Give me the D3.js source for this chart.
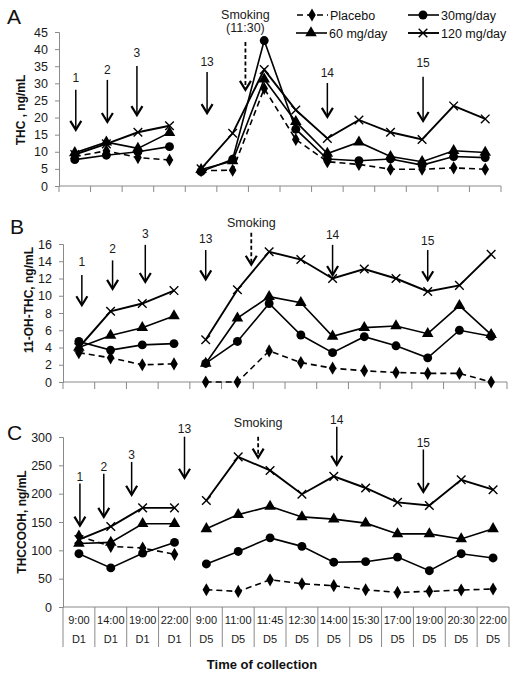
<!DOCTYPE html>
<html><head><meta charset="utf-8">
<script src="https://cdn.jsdelivr.net/npm/d3@7"></script>
<style>body{margin:0;background:#fff}svg{display:block;font-family:"Liberation Sans",Arial,sans-serif}text{fill:#1a1a1a}</style>
</head><body><svg id="c" width="519" height="679"></svg>
<script>
// ---------- data ----------
const timeLabels = ["9:00","14:00","19:00","22:00","9:00","11:00","11:45","12:30","14:00","15:30","17:00","19:00","20:30","22:00"];
const dayLabels  = ["D1","D1","D1","D1","D5","D5","D5","D5","D5","D5","D5","D5","D5","D5"];
const seriesNames = ["Placebo","30mg/day","60 mg/day","120 mg/day"];

const thcPlacebo = [8.6, 10.3, 8.3, 7.6, 4.5, 4.6, 28.5, 13.6, 7.1, 6.3, 4.9, 4.9, 5.3, 4.9];
const thc30      = [7.7, 9.0, 10.0, 11.5, 4.2, 7.8, 42.5, 16.6, 7.9, 7.4, 7.9, 6.1, 8.6, 8.3];
const thc60      = [9.7, 12.8, 11.0, 15.6, 4.8, 7.3, 31.2, 18.8, 9.5, 12.8, 8.6, 7.1, 10.3, 9.8];
const thc120     = [9.2, 12.3, 15.7, 17.6, 5.0, 15.4, 34.0, 22.2, 13.9, 19.3, 15.7, 13.6, 23.4, 19.6];

const ohPlacebo = [3.4, 2.8, 2.0, 2.1, 0, 0, 3.6, 2.25, 1.6, 1.3, 1.1, 1.0, 1.0, 0];
const oh30      = [4.7, 3.7, 4.3, 4.45, 2.15, 4.7, 9.1, 5.45, 3.4, 5.25, 4.2, 2.8, 6.0, 5.3];
const oh60      = [4.0, 5.4, 6.3, 7.65, 2.15, 7.4, 9.9, 9.2, 5.3, 6.3, 6.5, 5.6, 8.85, 5.5];
const oh120     = [4.0, 8.2, 9.1, 10.6, 4.9, 10.7, 15.1, 14.2, 12.0, 13.1, 12.0, 10.5, 11.2, 14.8];

const coohPlacebo = [125, 107, 104, 93, 30.5, 27.5, 48, 41, 37.6, 30.4, 25.8, 27.6, 30, 31.7];
const cooh30      = [94, 69, 95, 114, 76, 98, 122, 107, 79, 80, 88, 64, 94, 86.5];
const cooh60      = [112, 114, 147, 147, 138, 163, 177.5, 159, 155, 148, 129, 129, 120, 138];
const cooh120     = [119, 142, 175, 175, 188, 265, 241, 199, 230.5, 210, 184.6, 179, 224.6, 207];

const thcTicks  = [0,5,10,15,20,25,30,35,40,45];
const ohTicks   = [0,2,4,6,8,10,12,14,16];
const coohTicks = [0,50,100,150,200,250,300];

// annotation arrows: label, category index, y values in data units
const annA = [
  {t:"1", c:0, dx:1, lab:30.4, top:28.1, bot:16.4},
  {t:"2", c:1, dx:1, lab:32.7, top:31.0, bot:18.7},
  {t:"3", c:2, dx:-1, lab:37.7, top:35.1, bot:20.7},
  {t:"13", c:4, dx:6, lab:35.1, top:33.3, bot:21.3},
  {t:"14", c:8, dx:0, lab:31.9, top:30.1, bot:20.2},
  {t:"15", c:11, dx:1, lab:34.8, top:31.9, bot:19.0}
];
const annB = [
  {t:"1", c:0, dx:3, lab:13.4, top:12.4, bot:8.9},
  {t:"2", c:1, dx:2, lab:15.0, top:14.1, bot:10.8},
  {t:"3", c:2, dx:3, lab:16.7, top:15.9, bot:11.6},
  {t:"13", c:4, dx:0, lab:16.1, top:15.3, bot:11.9},
  {t:"14", c:8, dx:0, lab:16.6, top:15.9, bot:12.4},
  {t:"15", c:11, dx:0, lab:15.9, top:15.3, bot:11.8}
];
const annC = [
  {t:"1", c:0, dx:1, lab:223, top:218, bot:143.5},
  {t:"2", c:1, dx:-7, lab:240.5, top:235, bot:159},
  {t:"3", c:2, dx:-11, lab:262, top:256, bot:198},
  {t:"13", c:3, dx:10, lab:307.6, top:300.5, bot:228},
  {t:"14", c:8, dx:3, lab:323.5, top:318, bot:251},
  {t:"15", c:11, dx:-6, lab:283, top:278, bot:203}
];
const smokeA = {c:6, dx:-3, labels:["Smoking","(11:30)"], labs:[48.8,44.9], top:42.1, bot:28.1};
const smokeB = {c:6, dx:-2, labels:["Smoking"], labs:[18.0], top:17.3, bot:13.6};
const smokeC = {c:6, dx:4, labels:["Smoking"], labs:[318.4], top:300.5, bot:263.5};

// ---------- drawing ----------
const svg = d3.select("#c");
const axisCol = "#8a8a8a";
const txtCol = "#1a1a1a";
const idx = d3.range(timeLabels.length);

const panels = [
  {letter:"A", lx:7, ly:24, title:"THC , ng/mL", tx:25, ty:110,
   x0:59, x1:501, yb:186, yt:32, max:45, ticks:thcTicks, data:[thcPlacebo,thc30,thc60,thc120],
   ann:annA, smoke:smokeA, legend:true, tickLen:6},
  {letter:"B", lx:10, ly:234, title:"11-OH-THC, ng/mL", tx:33, ty:300,
   x0:63, x1:507, yb:382, yt:244, max:16, ticks:ohTicks, data:[ohPlacebo,oh30,oh60,oh120],
   ann:annB, smoke:smokeB, legend:false, tickLen:7},
  {letter:"C", lx:7, ly:440, title:"THCCOOH, ng/mL", tx:26, ty:522,
   x0:63, x1:509, yb:607, yt:437, max:300, ticks:coohTicks, data:[coohPlacebo,cooh30,cooh60,cooh120],
   ann:annC, smoke:smokeC, legend:false, tickLen:40, labels:true}
];

function marker(g, type, x, y){
  if(type===3){
    const s=4.3;
    g.append("path").attr("d",`M${x-s},${y-s}L${x+s},${y+s}M${x-s},${y+s}L${x+s},${y-s}`)
     .attr("stroke","#000").attr("stroke-width",1.4).attr("fill","none");
  } else {
    const sym = type===0 ? d3.symbolDiamond : type===1 ? d3.symbolCircle : d3.symbolTriangle;
    const size = type===0 ? 50 : type===1 ? 62 : 58;
    g.append("path").attr("d", d3.symbol().type(sym).size(size)())
     .attr("transform",`translate(${x},${y})`).attr("fill","#000");
  }
}

function arrow(g, x, y1, y2, dashed){
  g.append("line").attr("x1",x).attr("x2",x).attr("y1",y1).attr("y2",y2-1)
   .attr("stroke","#000").attr("stroke-width",dashed?1.8:1.5)
   .attr("stroke-dasharray",dashed?"4,2.5":null);
  g.append("path").attr("d",`M${x-5.5},${y2-9}L${x},${y2}L${x+5.5},${y2-9}`)
   .attr("stroke","#000").attr("stroke-width",2.2).attr("fill","none").attr("stroke-linejoin","miter");
}

panels.forEach(p=>{
  const g = svg.append("g");
  const x = d3.scaleBand().domain(idx).range([p.x0,p.x1]);
  const y = d3.scaleLinear().domain([0,p.max]).range([p.yb,p.yt]);
  const cx = i => x(i)+x.bandwidth()/2;

  g.append("text").attr("x",p.lx).attr("y",p.ly).attr("font-size",21).style("fill","#111").text(p.letter);
  g.append("text").attr("transform",`translate(${p.tx},${p.ty}) rotate(-90)`)
   .attr("text-anchor","middle").attr("font-size",12).attr("font-weight","bold").style("fill","#111").text(p.title);

  const ya = g.append("g").attr("transform",`translate(${p.x0},0)`)
    .call(d3.axisLeft(y).tickValues(p.ticks).tickSize(4).tickPadding(7));
  ya.select(".domain").attr("stroke",axisCol);
  ya.selectAll(".tick line").attr("stroke",axisCol);
  ya.selectAll(".tick text").attr("font-size",12.5).style("fill",txtCol).attr("font-family","Liberation Sans, Arial, sans-serif");

  g.append("line").attr("x1",p.x0).attr("x2",p.x1).attr("y1",p.yb).attr("y2",p.yb).attr("stroke",axisCol);
  d3.range(timeLabels.length+1).forEach(i=>{
    const xx = i<timeLabels.length ? x(i) : p.x1;
    g.append("line").attr("x1",xx).attr("x2",xx).attr("y1",p.yb).attr("y2",p.yb+p.tickLen).attr("stroke",axisCol);
  });
  if(p.labels){
    idx.forEach(i=>{
      g.append("text").attr("x",cx(i)).attr("y",p.yb+17).attr("text-anchor","middle")
       .attr("font-size",11).style("fill",txtCol).text(timeLabels[i]);
      g.append("text").attr("x",cx(i)).attr("y",p.yb+36).attr("text-anchor","middle")
       .attr("font-size",11).style("fill",txtCol).text(dayLabels[i]);
    });
  }

  const segs = [d3.range(0,4), d3.range(4,14)];
  p.data.forEach((vals,si)=>{
    segs.forEach(seg=>{
      g.append("path").datum(seg)
       .attr("d", d3.line().x(i=>cx(i)).y(i=>y(vals[i])))
       .attr("fill","none").attr("stroke","#000")
       .attr("stroke-width", si===3?1.9:1.6)
       .attr("stroke-dasharray", si===0?"6,4":null);
    });
  });
  p.data.forEach((vals,si)=>{
    idx.forEach(i=>marker(g, si, cx(i), y(vals[i])));
  });

  p.ann.forEach(a=>{
    const ax = cx(a.c)+a.dx;
    g.append("text").attr("x",ax).attr("y",y(a.lab)).attr("text-anchor","middle")
     .attr("font-size",12).style("fill",txtCol).text(a.t);
    arrow(g, ax, y(a.top), y(a.bot), false);
  });
  const s = p.smoke;
  const sx = x(s.c)+s.dx;
  s.labels.forEach((t,k)=>{
    g.append("text").attr("x",sx).attr("y",y(s.labs[k])).attr("text-anchor","middle")
     .attr("font-size",12.5).style("fill",txtCol).text(t);
  });
  arrow(g, sx, y(s.top), y(s.bot), true);

  if(p.legend){
    const items = [
      {x:297, y:15}, {x:408, y:15}, {x:296, y:33}, {x:408, y:33}
    ];
    seriesNames.forEach((n,si)=>{
      const it = items[si];
      const lg = g.append("g");
      lg.append("line").attr("x1",it.x).attr("x2",it.x+31).attr("y1",it.y).attr("y2",it.y)
        .attr("stroke","#000").attr("stroke-width",si===3?1.9:1.6).attr("stroke-dasharray",si===0?"6,4":null);
      marker(lg, si, it.x+15, it.y);
      lg.append("text").attr("x",it.x+33).attr("y",it.y+4.5).attr("font-size",12.5).style("fill","#111").text(n);
    });
  }
});

svg.append("text").attr("x",262).attr("y",669).attr("text-anchor","middle")
  .attr("font-size",13).attr("font-weight","bold").style("fill","#111").text("Time of collection");
</script>
</body></html>
